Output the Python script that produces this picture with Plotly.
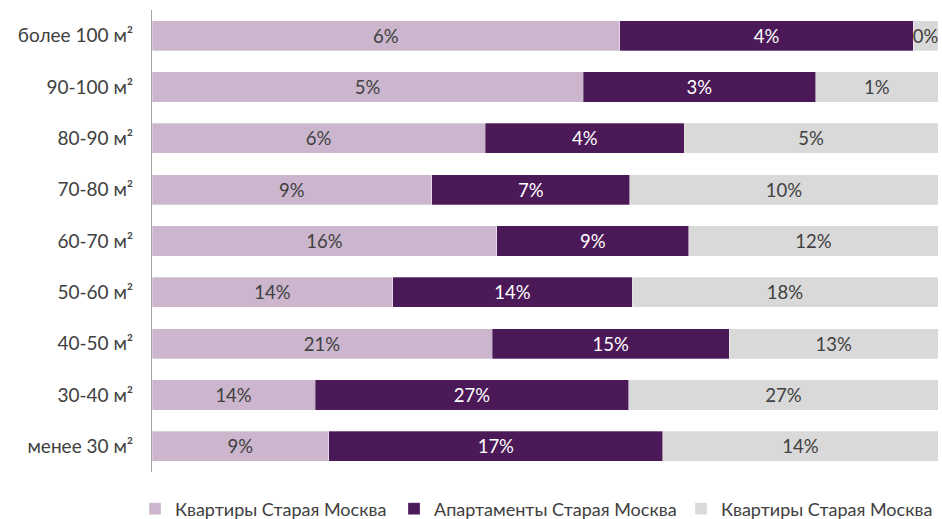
import plotly.graph_objects as go

# categories, top to bottom as shown
categories = [
    "более 100 м²",
    "90-100 м²",
    "80-90 м²",
    "70-80 м²",
    "60-70 м²",
    "50-60 м²",
    "40-50 м²",
    "30-40 м²",
    "менее 30 м²",
]

# share of each series' total (%)
flats_a = [6.07, 5.15, 6.15, 9.26, 16.24, 14.1, 21.2, 14.1, 9.0]
apartments = [3.81, 2.78, 3.67, 6.55, 9.03, 14.0, 14.8, 27.1, 17.0]
flats_b = [0.32, 1.46, 4.68, 10.19, 11.73, 17.9, 13.0, 26.7, 14.0]

series_names = [
    "Квартиры Старая Москва",
    "Апартаменты Старая Москва",
    "Квартиры Старая Москва",
]

FONT = "Lato, Open Sans, sans-serif"

# values, fill, label colour, legend entry width
styles = [
    (flats_a, "#CBB6CD", "#404040", 214),
    (apartments, "#4B1858", "#FFFFFF", 242),
    (flats_b, "#D9D9D9", "#404040", 220),
]

fig = go.Figure()
for (values, color, text_color, entry_w), name in zip(styles, series_names):
    fig.add_trace(
        go.Bar(
            y=categories,
            x=values,
            name=name,
            orientation="h",
            marker={"color": color, "line": {"color": "rgba(255,255,255,0.6)", "width": 0.5}},
            text=[f"{v:.0f}%" for v in values],
            textposition="inside",
            insidetextanchor="middle",
            textangle=0,
            constraintext="none",
            textfont={"family": FONT, "size": 18.5, "color": text_color},
            legendwidth=entry_w,
            hoverinfo="skip",
        )
    )

fig.update_layout(
    width=942,
    height=519,
    barmode="stack",
    barnorm="percent",
    bargap=0.415,
    paper_bgcolor="white",
    plot_bgcolor="white",
    margin={"l": 152, "r": 4, "t": 10, "b": 47, "autoexpand": False},
    font={"family": FONT, "size": 18, "color": "#404040"},
    showlegend=True,
    legend={
        "orientation": "h",
        "x": -0.0216,
        "xanchor": "left",
        "y": -0.08,
        "yanchor": "middle",
        "font": {"family": FONT, "size": 18, "color": "#404040"},
        "itemwidth": 30,
        "traceorder": "normal",
    },
)
fig.update_xaxes(
    range=[0, 100],
    showticklabels=False,
    showgrid=False,
    zeroline=False,
    showline=False,
)
fig.update_yaxes(
    autorange="reversed",
    showline=True,
    linecolor="#A6A6A6",
    linewidth=1,
    showgrid=False,
    ticks="",
    ticklabelstandoff=14,
    tickfont={"family": FONT, "size": 19, "color": "#404040"},
)

fig.write_html(
    "out.html",
    config={"displayModeBar": False},
    post_script="document.body.style.margin='0';document.body.style.overflow='hidden';",
)
